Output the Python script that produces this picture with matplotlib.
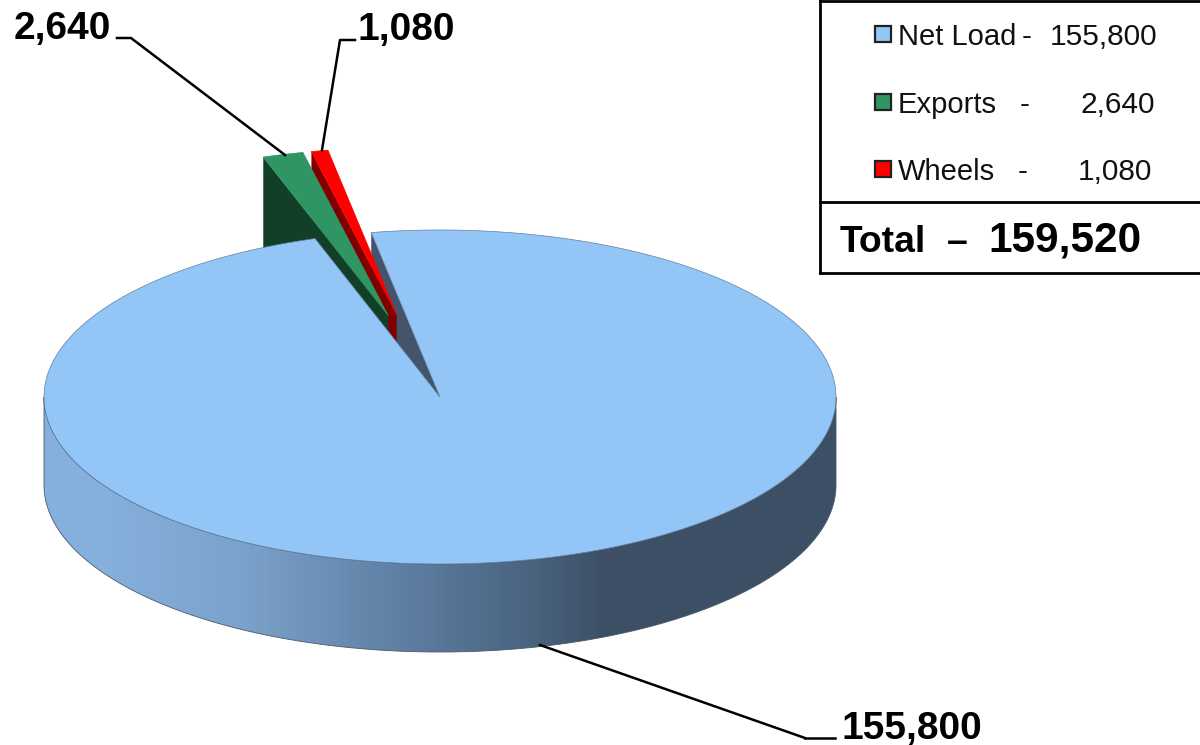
import matplotlib
matplotlib.use('Agg')
import matplotlib.pyplot as plt
import numpy as np
from matplotlib.colors import LinearSegmentedColormap
from matplotlib.patches import Polygon, Rectangle

plt.rcParams['font.family'] = ['Liberation Sans', 'DejaVu Sans']

labels = ['Net Load', 'Exports', 'Wheels']
values = [155800, 2640, 1080]
value_labels = ['155,800', '2,640', '1,080']
legend_dashes = ['-', '-', '-']
total_label = '159,520'

top_colors = ['#94c5f7', '#2f9562', '#ff0000']
wall_colors = ['#44546a', '#123f27', '#800000']

# pie geometry, in pixels
cx, cy = 440, 397
rx, ry = 396, 167
depth = 88
squash = ry / rx
start = -10.0
explode = 200
explode_dir = [0, -15, -12.5]

fig = plt.figure(figsize=(12, 7.45), dpi=100)
ax = fig.add_axes([0, 0, 1, 1])
ax.set_xlim(0, 1200)
ax.set_ylim(745, 0)
ax.axis('off')

spans = 360 * np.array(values) / sum(values)
ends = start + np.cumsum(spans)
starts = ends - spans


def point(angle, radius=rx):
    a = np.radians(angle)
    return np.sin(a) * radius, -np.cos(a) * radius * squash


def wedge(i, off=0):
    a = np.linspace(starts[i], ends[i], 400)
    x, y = point(a)
    ox, oy = point(explode_dir[i], off)
    return np.r_[cx + ox, cx + ox + x], np.r_[cy + oy, cy + oy + y]


def cut_face(x0, y0, x1, y1, color, z, h=depth):
    ax.add_patch(Polygon([(x0, y0), (x1, y1), (x1, y1 + h), (x0, y0 + h)],
                         closed=True, fc=color, ec='none', zorder=z))


# outer wall with the light to dark shading
t = np.radians(np.linspace(90, 270, 300))
wall_x = cx + rx * np.sin(t)
wall_y = cy - ry * np.cos(t)
wall = Polygon(np.r_[np.c_[wall_x, wall_y], np.c_[wall_x[::-1], wall_y[::-1] + depth]],
               closed=True, fc='none', ec='#4a5a6a', lw=0.6, zorder=1.5)
ax.add_patch(wall)
shade = LinearSegmentedColormap.from_list('wall', [(0, '#86b1de'), (0.08, '#85afdc'),
                                                   (0.25, '#7ba2cb'), (0.45, '#5f7fa3'),
                                                   (0.61, '#4a6480'), (0.71, '#3c4f64'),
                                                   (1, '#3c4f64')])
img = ax.imshow(np.linspace(0, 1, 256)[None, :], cmap=shade, aspect='auto',
                extent=(cx - rx, cx + rx, cy + ry + depth, cy), zorder=1)
img.set_clip_path(wall)
ax.set_xlim(0, 1200)
ax.set_ylim(745, 0)

# inside of the notch, then the two pulled out slices
x0, y0 = point(start)
cut_face(cx + x0, cy + y0, cx, cy, wall_colors[0], 2)

for i, z in [(2, 3), (1, 5)]:
    x, y = wedge(i, explode)
    cut_face(x[1], y[1], x[0], y[0], wall_colors[i], z, depth + 3)
    ax.add_patch(Polygon(np.c_[x, y], closed=True, fc=top_colors[i], ec=top_colors[i],
                         lw=0.5, zorder=z + 1))

x, y = wedge(0)
ax.add_patch(Polygon(np.c_[x, y], closed=True, fc=top_colors[0], ec='#5f7f9f', lw=0.5, zorder=8))

# leader lines and data labels
ax.plot([805, 835], [738, 738], color='k', lw=1.8, zorder=9)
ax.plot([540, 805], [645, 738], color='k', lw=1.8, zorder=9)
ax.plot([117, 131, 285], [38, 38, 155], color='k', lw=1.8, zorder=9)
ax.plot([355, 340, 322], [40, 40, 150], color='k', lw=1.8, zorder=9)
ax.text(842, 729, value_labels[0], fontsize=28, fontweight='bold', va='center', ha='left')
ax.text(14, 29, value_labels[1], fontsize=28, fontweight='bold', va='center', ha='left')
ax.text(358, 30, value_labels[2], fontsize=28, fontweight='bold', va='center', ha='left')

# legend table
ax.plot([820, 820], [0, 273], color='k', lw=2, zorder=9)
ax.plot([820, 1200], [0.5, 0.5], color='k', lw=2, zorder=9)
ax.plot([820, 1200], [202, 202], color='k', lw=2, zorder=9)
ax.plot([820, 1200], [273, 273], color='k', lw=2, zorder=9)

row_y = [37, 105, 172]
dash_x = [1027, 1025, 1023]
value_x = [1157, 1155, 1152]
for i in range(3):
    ax.add_patch(Rectangle((875, row_y[i] - 11), 16, 16, fc=top_colors[i], ec='#222222', lw=1.6))
    ax.text(898, row_y[i], labels[i], fontsize=21, va='center', ha='left', color='#111111')
    ax.text(dash_x[i], row_y[i], legend_dashes[i], fontsize=21.5, va='center', ha='center', color='#111111')
    ax.text(value_x[i], row_y[i], value_labels[i], fontsize=21.5, va='center', ha='right', color='#111111')

ax.text(840, 243, 'Total', fontsize=26.8, fontweight='bold', va='center', ha='left')
ax.text(957, 243, '–', fontsize=26.8, fontweight='bold', va='center', ha='center')
ax.text(988, 241, total_label, fontsize=30.5, fontweight='bold', va='center', ha='left')

fig.savefig('out.png', dpi=100)
